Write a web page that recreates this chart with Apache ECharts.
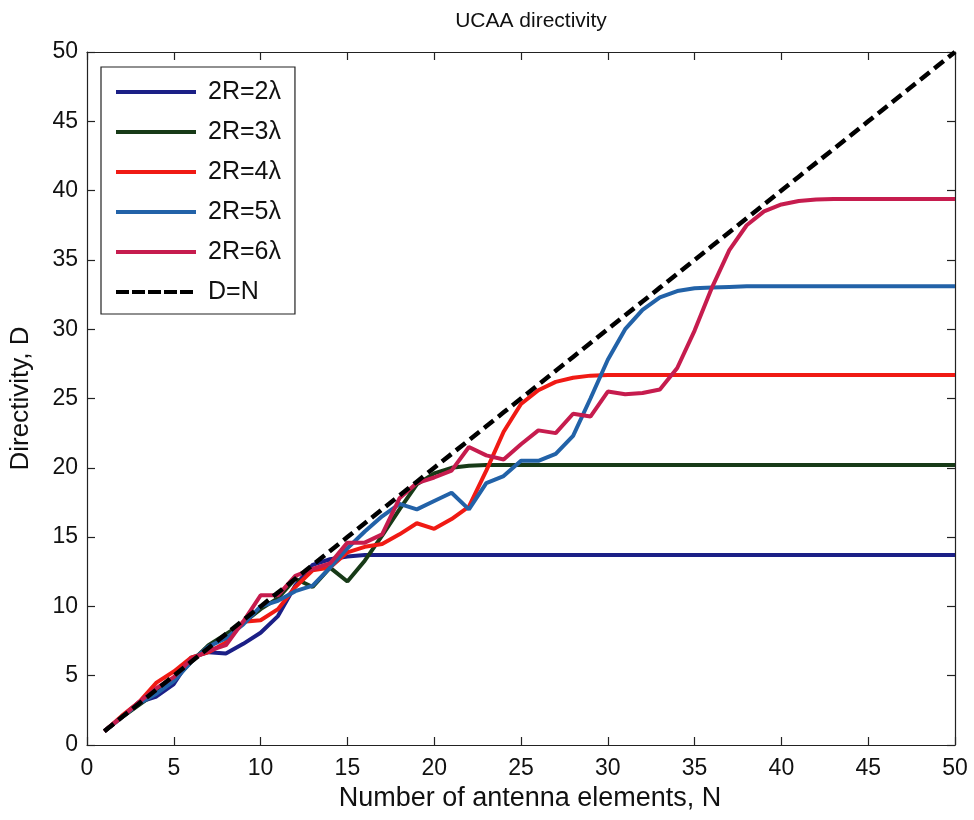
<!DOCTYPE html>
<html>
<head>
<meta charset="utf-8">
<title>UCAA directivity</title>
<script src="https://cdn.jsdelivr.net/npm/echarts@6/dist/echarts.min.js"></script>
<style>
  html, body { margin: 0; padding: 0; background: #ffffff; }
  #chart { width: 974px; height: 820px; }
</style>
</head>
<body>
<div id="chart"></div>
<script>
// Number of antenna elements N = 1..50
const elements = [1,2,3,4,5,6,7,8,9,10,11,12,13,14,15,16,17,18,19,20,21,22,23,24,25,26,27,28,29,30,31,32,33,34,35,36,37,38,39,40,41,42,43,44,45,46,47,48,49,50];

// Directivity for each array diameter
const d2 = [1,2.0,3.1,3.5,4.4,6.3,6.7,6.6,7.3,8.1, 9.3,11.5,13.0,13.4,13.6,13.7,13.7,13.7,13.7,13.7,
            13.7,13.7,13.7,13.7,13.7,13.7,13.7,13.7,13.7,13.7, 13.7,13.7,13.7,13.7,13.7,13.7,13.7,13.7,13.7,13.7,
            13.7,13.7,13.7,13.7,13.7,13.7,13.7,13.7,13.7,13.7];
const d3 = [1,2.0,2.9,3.8,4.7,6.0,7.2,8.0,8.8,9.8, 10.6,12.0,11.4,12.8,11.8,13.3,15.1,17.0,18.8,19.6,
            20.0,20.15,20.2,20.2,20.2,20.2,20.2,20.2,20.2,20.2, 20.2,20.2,20.2,20.2,20.2,20.2,20.2,20.2,20.2,20.2,
            20.2,20.2,20.2,20.2,20.2,20.2,20.2,20.2,20.2,20.2];
const d4 = [1,2.1,3.1,4.5,5.3,6.3,6.7,7.4,8.9,9.0, 9.8,11.4,12.6,12.8,13.9,14.3,14.5,15.2,16.0,15.6,
            16.3,17.2,19.8,22.6,24.6,25.6,26.2,26.5,26.65,26.7, 26.7,26.7,26.7,26.7,26.7,26.7,26.7,26.7,26.7,26.7,
            26.7,26.7,26.7,26.7,26.7,26.7,26.7,26.7,26.7,26.7];
const d5 = [1,2.0,3.0,3.7,4.6,6.0,7.1,7.7,8.7,10.0, 10.4,11.1,11.5,12.8,14.2,15.4,16.5,17.4,17.0,17.6,
            18.2,17.0,18.9,19.4,20.5,20.5,21.0,22.3,25.0,27.8, 30.0,31.4,32.3,32.75,32.95,33.0,33.05,33.1,33.1,33.1,
            33.1,33.1,33.1,33.1,33.1,33.1,33.1,33.1,33.1,33.1];
const d6 = [1,2.0,3.1,4.1,4.9,6.2,6.8,7.2,8.9,10.8, 10.8,12.2,12.7,13.1,14.6,14.6,15.2,17.8,18.9,19.3,
            19.8,21.5,20.9,20.6,21.7,22.7,22.5,23.9,23.7,25.5, 25.3,25.4,25.65,27.2,29.9,33.0,35.7,37.5,38.5,39.0,
            39.25,39.35,39.4,39.4,39.4,39.4,39.4,39.4,39.4,39.4];
// Reference line D = N
const dN = [1,2,3,4,5,6,7,8,9,10,11,12,13,14,15,16,17,18,19,20,21,22,23,24,25,26,27,28,29,30,31,32,33,34,35,36,37,38,39,40,41,42,43,44,45,46,47,48,49,50];

const seriesNames = ['2R=2λ', '2R=3λ', '2R=4λ', '2R=5λ', '2R=6λ', 'D=N'];
const xTicks = [0, 5, 10, 15, 20, 25, 30, 35, 40, 45, 50];
const yTicks = [0, 5, 10, 15, 20, 25, 30, 35, 40, 45, 50];

const FONT = '"Liberation Sans", Arial, Helvetica, sans-serif';
const pairs = vals => elements.map((n, i) => [n, vals[i]]);

// legend keys: a plain bar for solid curves, a row of dashes for D=N
const SOLID_KEY = 'path://M0,0H80V4H0Z';
const DASH_KEY = 'path://M0,0H13V4H0Z M16,0H29V4H16Z M32,0H45V4H32Z M48,0H61V4H48Z M64,0H77V4H64Z M80,0H80V4H80Z';

const curves = [
  { name: seriesNames[0], data: d2, color: '#1b1f86', type: 'solid' },
  { name: seriesNames[1], data: d3, color: '#173a17', type: 'solid' },
  { name: seriesNames[2], data: d4, color: '#f01a14', type: 'solid' },
  { name: seriesNames[3], data: d5, color: '#2262a8', type: 'solid' },
  { name: seriesNames[4], data: d6, color: '#c61c4e', type: 'solid' },
  { name: seriesNames[5], data: dN, color: '#000000', type: [12, 6] }
];

const frameAxis = {
  min: xTicks[0], max: xTicks[xTicks.length - 1], interval: 5,
  axisLine: { show: true, onZero: false, lineStyle: { color: '#222', width: 1.2 } },
  axisTick: { show: true, inside: true, length: 8, lineStyle: { color: '#222', width: 1.2 } },
  splitLine: { show: false }
};

const chart = echarts.init(document.getElementById('chart'), null, { renderer: 'canvas' });
chart.setOption({
  backgroundColor: '#ffffff',
  animation: false,
  textStyle: { fontFamily: FONT },
  title: {
    text: 'UCAA directivity',
    left: 526, top: 6, textAlign: 'center',
    textStyle: { fontFamily: FONT, fontSize: 21, fontWeight: 'normal', color: '#111' }
  },
  grid: { left: 86, right: 19, top: 52, bottom: 75, containLabel: false },
  legend: {
    orient: 'vertical',
    left: 101, top: 67,
    padding: [11, 14, 8, 15],
    itemGap: 12,
    itemWidth: 80,
    itemHeight: 4,
    backgroundColor: '#ffffff',
    borderColor: '#222',
    borderWidth: 1.2,
    borderRadius: 0,
    data: curves.map(c => ({
      name: c.name,
      icon: c.type === 'solid' ? SOLID_KEY : DASH_KEY,
      itemStyle: { color: c.color }
    })),
    textStyle: { fontFamily: FONT, fontSize: 25, lineHeight: 28, color: '#111', padding: [0, 0, 0, 7] }
  },
  xAxis: [
    Object.assign({}, frameAxis, {
      type: 'value', position: 'bottom',
      name: 'Number of antenna elements, N', nameLocation: 'middle', nameGap: 38,
      nameTextStyle: { fontFamily: FONT, fontSize: 27, color: '#111', padding: [0, 0, 0, 18] },
      axisLabel: { show: true, fontFamily: FONT, fontSize: 23, color: '#111', margin: 12,
        formatter: v => xTicks.includes(v) ? String(v) : '' }
    }),
    Object.assign({}, frameAxis, { type: 'value', position: 'top', axisLabel: { show: false } })
  ],
  yAxis: [
    Object.assign({}, frameAxis, {
      type: 'value', position: 'left',
      name: 'Directivity, D', nameLocation: 'middle', nameGap: 53,
      nameTextStyle: { fontFamily: FONT, fontSize: 26, color: '#111' },
      axisLabel: { show: true, fontFamily: FONT, fontSize: 23, color: '#111', margin: 9,
        formatter: v => yTicks.includes(v) ? String(v) : '' }
    }),
    Object.assign({}, frameAxis, { type: 'value', position: 'right', axisLabel: { show: false } })
  ],
  series: curves.map(c => ({
    name: c.name,
    type: 'line',
    xAxisIndex: 0, yAxisIndex: 0,
    data: pairs(c.data),
    showSymbol: false,
    symbol: 'none',
    smooth: false,
    itemStyle: { color: c.color },
    lineStyle: { color: c.color, width: c.type === 'solid' ? 4 : 4.5, type: c.type, cap: 'butt' },
    emphasis: { disabled: true },
    z: c.type === 'solid' ? 2 : 3
  }))
});
</script>
</body>
</html>
